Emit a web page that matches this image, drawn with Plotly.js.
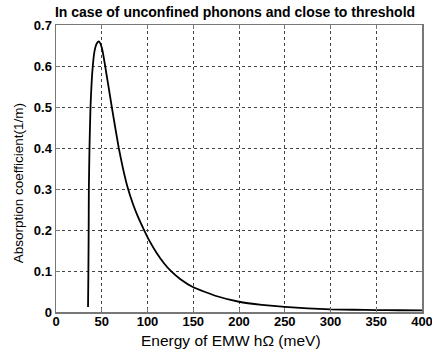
<!DOCTYPE html>
<html>
<head>
<meta charset="utf-8">
<script src="https://cdn.plot.ly/plotly-3.0.1.min.js"></script>
<style>html,body{margin:0;padding:0;background:#fff;}#chart{width:432px;height:353px;}</style>
</head>
<body>
<div id="chart"></div>
<script>
// Energy of EMW (meV)
const energy = [35, 35.4, 35.7, 35.9, 36.6, 37.7, 40.2, 42.4, 44.5, 46.8, 48, 50, 52, 54, 57, 60.6, 64.5, 68.6, 73, 78, 84, 90, 96, 102, 110, 118, 126, 136, 150, 175, 200, 225, 250, 275, 300, 325, 350, 375, 400];
// Absorption coefficient (1/m)
const absorption = [0.012, 0.1, 0.2, 0.3, 0.4, 0.5, 0.6, 0.64, 0.655, 0.66, 0.657, 0.645, 0.623, 0.596, 0.555, 0.505, 0.453, 0.4, 0.352, 0.306, 0.264, 0.23, 0.201, 0.174, 0.144, 0.119, 0.099, 0.08, 0.0604, 0.039, 0.025, 0.0175, 0.0125, 0.009, 0.0065, 0.0055, 0.0048, 0.0043, 0.004];
const xTicks = [0, 50, 100, 150, 200, 250, 300, 350, 400];
const yTicks = [0, 0.1, 0.2, 0.3, 0.4, 0.5, 0.6, 0.7];
const yTickText = ['0', '0.1', '0.2', '0.3', '0.4', '0.5', '0.6', '0.7'];

const trace = {
  x: energy, y: absorption, type: 'scatter', mode: 'lines',
  line: {color: '#000', width: 1.8, shape: 'spline', smoothing: 0.4},
  hoverinfo: 'skip'
};

const fam = 'Liberation Sans, Arial, sans-serif';
const layout = {
  width: 432, height: 353,
  margin: {l: 56, r: 10, t: 25, b: 41},
  paper_bgcolor: '#fff', plot_bgcolor: '#fff',
  showlegend: false,
  font: {family: fam, color: '#000'},
  title: {text: '<b>In case of unconfined phonons and close to threshold</b>',
          font: {family: fam, size: 14, color: '#000'},
          x: 0.544, xanchor: 'center', y: 0.965, yanchor: 'middle'},
  xaxis: {
    range: [0, 400], tickvals: xTicks, ticktext: xTicks.map(v => '<b>' + v + '</b>'),
    showgrid: true, gridcolor: '#444', griddash: 'dot', gridwidth: 1,
    zeroline: false, showline: true, linecolor: '#777', linewidth: 1.5, mirror: 'ticks',
    ticks: 'inside', ticklen: 4, tickcolor: '#777',
    ticklabelstandoff: -3, ticklabeloverflow: 'allow',
    tickfont: {family: fam, size: 13, color: '#000'}
  },
  yaxis: {
    range: [0, 0.7], tickvals: yTicks, ticktext: yTickText.map(v => '<b>' + v + '</b>'),
    showgrid: true, gridcolor: '#444', griddash: 'dot', gridwidth: 1,
    zeroline: false, showline: true, linecolor: '#777', linewidth: 1.5, mirror: 'ticks',
    ticks: 'inside', ticklen: 4, tickcolor: '#777',
    ticklabeloverflow: 'allow',
    tickfont: {family: fam, size: 13, color: '#000'}
  },
  annotations: [
    {text: 'Energy of EMW hΩ (meV)', xref: 'paper', yref: 'paper', x: 0.477, y: -0.101,
     xanchor: 'center', yanchor: 'middle', showarrow: false,
     font: {family: fam, size: 15.5, color: '#000'}},
    {text: 'Absorption coefficient(1/m)', xref: 'paper', yref: 'paper', x: -0.1025, y: 0.45,
     xanchor: 'center', yanchor: 'middle', textangle: -90, showarrow: false,
     font: {family: fam, size: 13.5, color: '#000'}}
  ]
};

Plotly.newPlot('chart', [trace], layout, {displayModeBar: false, staticPlot: true});
</script>
</body>
</html>
